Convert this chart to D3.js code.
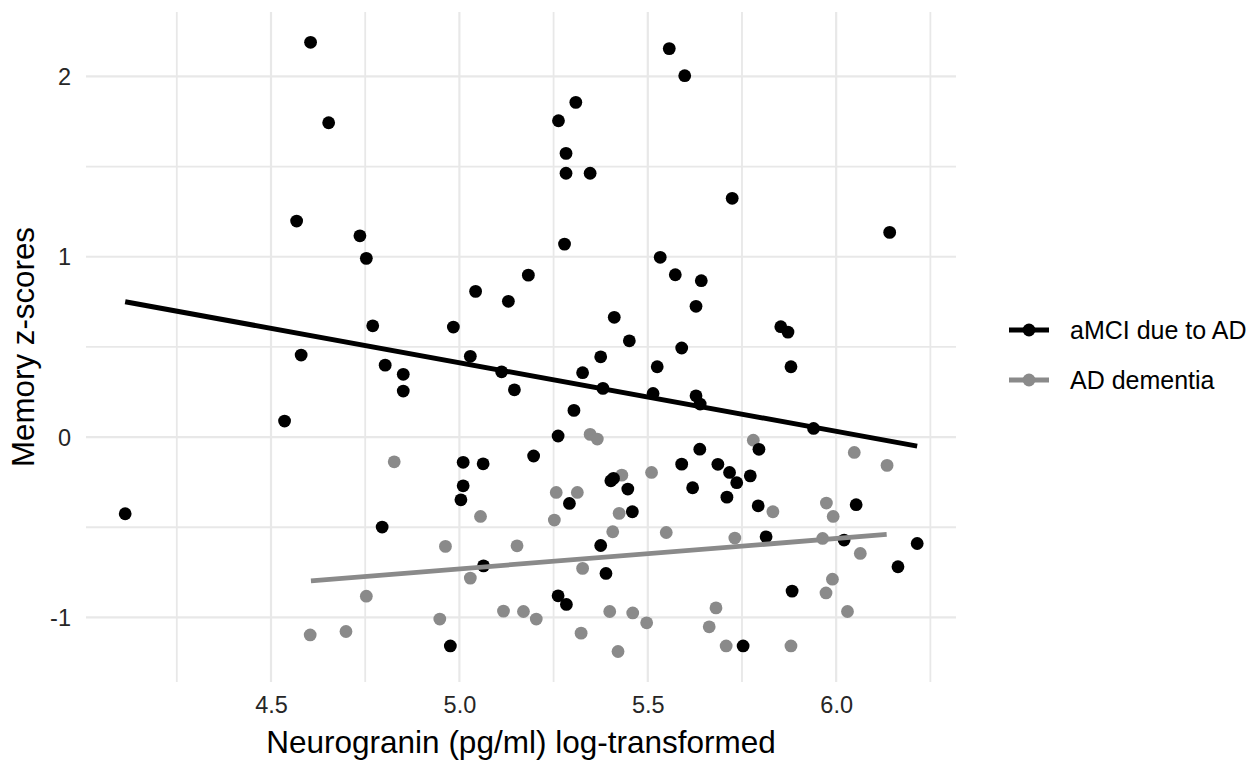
<!DOCTYPE html>
<html>
<head>
<meta charset="utf-8">
<script src="https://cdn.jsdelivr.net/npm/d3@7"></script>
<style>
  html, body { margin: 0; padding: 0; background: #ffffff; }
  svg { display: block; font-family: "Liberation Sans", Arial, Helvetica, sans-serif; }
</style>
</head>
<body>
<svg id="chart" width="1260" height="761"></svg>
<script>
// ---------------- DATA ----------------
const groups = ["aMCI due to AD", "AD dementia"];

// aMCI due to AD: Neurogranin (log) and memory z-score
const neuroAMCI = [4.605, 4.653, 4.568, 4.736, 4.753, 5.043, 5.130, 5.183, 4.770, 4.984,
  4.580, 4.803, 4.851, 4.851, 5.029, 5.112, 5.146, 4.536, 5.197, 5.010,
  5.063, 5.010, 5.004, 4.113, 4.795, 5.064, 4.976, 5.557, 5.598, 5.309,
  5.263, 5.283, 5.283, 5.347, 5.724, 6.142, 5.279, 5.533, 5.573, 5.642,
  5.628, 5.411, 5.853, 5.872, 5.451, 5.590, 5.375, 5.327, 5.525, 5.880,
  5.381, 5.514, 5.628, 5.639, 5.304, 5.940, 5.262, 5.638, 5.795, 5.590,
  5.686, 5.717, 5.402, 5.409, 5.736, 5.772, 5.447, 5.619, 5.710, 5.292,
  5.793, 6.053, 5.459, 5.814, 5.375, 6.021, 6.215, 6.164, 5.389, 5.883,
  5.262, 5.284, 5.753];
const memAMCI = [2.189, 1.743, 1.198, 1.116, 0.991, 0.808, 0.753, 0.898, 0.617, 0.610,
  0.455, 0.399, 0.348, 0.255, 0.448, 0.362, 0.262, 0.089, -0.105, -0.140,
  -0.148, -0.270, -0.348, -0.425, -0.499, -0.714, -1.158, 2.154, 2.004, 1.856,
  1.754, 1.573, 1.463, 1.463, 1.324, 1.135, 1.070, 0.997, 0.900, 0.867,
  0.725, 0.664, 0.612, 0.582, 0.534, 0.494, 0.445, 0.357, 0.390, 0.390,
  0.270, 0.242, 0.229, 0.183, 0.148, 0.048, 0.006, -0.067, -0.068, -0.150,
  -0.151, -0.196, -0.242, -0.229, -0.253, -0.215, -0.288, -0.281, -0.333, -0.368,
  -0.381, -0.375, -0.414, -0.553, -0.601, -0.571, -0.590, -0.719, -0.756, -0.854,
  -0.880, -0.928, -1.158];

// AD dementia
const neuroAD = [4.827, 5.347, 5.366, 5.056, 4.963, 5.153, 5.029, 4.753, 5.117, 5.170,
  4.948, 4.604, 4.699, 5.204, 5.780, 6.048, 6.135, 5.431, 5.510, 5.257,
  5.313, 5.424, 5.252, 5.832, 5.974, 5.992, 5.407, 5.549, 5.731, 5.964,
  6.064, 5.327, 5.990, 5.973, 5.399, 5.460, 5.497, 5.681, 5.663, 6.030,
  5.323, 5.708, 5.880, 5.421];
const memAD = [-0.137, 0.015, -0.011, -0.440, -0.606, -0.603, -0.782, -0.882, -0.965, -0.967,
  -1.009, -1.097, -1.078, -1.009, -0.017, -0.085, -0.157, -0.211, -0.196, -0.307,
  -0.307, -0.423, -0.460, -0.414, -0.366, -0.440, -0.525, -0.529, -0.560, -0.562,
  -0.645, -0.728, -0.788, -0.864, -0.967, -0.975, -1.030, -0.947, -1.052, -0.967,
  -1.087, -1.158, -1.158, -1.189];

// Fitted linear trends (endpoints over each group's x range)
const fitNeuroAMCI = [4.113, 6.215];
const fitMemAMCI = [0.750, -0.050];
const fitNeuroAD = [4.606, 6.134];
const fitMemAD = [-0.797, -0.540];

// Axis ticks
const xMajorTicks = [4.5, 5.0, 5.5, 6.0];
const xTickLabels = ["4.5", "5.0", "5.5", "6.0"];
const xMinorTicks = [4.25, 4.75, 5.25, 5.75, 6.25];
const yMajorTicks = [-1, 0, 1, 2];
const yTickLabels = ["-1", "0", "1", "2"];
const yMinorTicks = [-0.5, 0.5, 1.5];

// ---------------- LAYOUT ----------------
const panel = { left: 86, right: 956, top: 12, bottom: 682 };
const xDomain = [4.009, 6.318];
const yDomain = [-1.358, 2.357];
const colors = { "aMCI due to AD": "#000000", "AD dementia": "#8a8a8a" };

const svg = d3.select("#chart");
const x = d3.scaleLinear().domain(xDomain).range([panel.left, panel.right]);
const y = d3.scaleLinear().domain(yDomain).range([panel.bottom, panel.top]);

const grid = svg.append("g");
const gridColor = "#e8e8e8";
// minor grid
grid.selectAll(".xminor").data(xMinorTicks).enter().append("line")
  .attr("x1", d => x(d)).attr("x2", d => x(d))
  .attr("y1", panel.top).attr("y2", panel.bottom)
  .attr("stroke", gridColor).attr("stroke-width", 1.8);
grid.selectAll(".yminor").data(yMinorTicks).enter().append("line")
  .attr("y1", d => y(d)).attr("y2", d => y(d))
  .attr("x1", panel.left).attr("x2", panel.right)
  .attr("stroke", gridColor).attr("stroke-width", 1.8);
// major grid
grid.selectAll(".xmajor").data(xMajorTicks).enter().append("line")
  .attr("x1", d => x(d)).attr("x2", d => x(d))
  .attr("y1", panel.top).attr("y2", panel.bottom)
  .attr("stroke", gridColor).attr("stroke-width", 2.2);
grid.selectAll(".ymajor").data(yMajorTicks).enter().append("line")
  .attr("y1", d => y(d)).attr("y2", d => y(d))
  .attr("x1", panel.left).attr("x2", panel.right)
  .attr("stroke", gridColor).attr("stroke-width", 2.2);

// axes (labels only)
const xAxis = d3.axisBottom(x).tickValues(xMajorTicks)
  .tickFormat((d, i) => xTickLabels[i]).tickSize(0).tickPadding(0);
const gx = svg.append("g").attr("transform", `translate(0,${panel.bottom})`).call(xAxis);
gx.select(".domain").remove();
gx.selectAll("text").attr("font-size", 23.5).attr("fill", "#262626")
  .attr("font-family", "Liberation Sans, Arial, sans-serif")
  .attr("dy", null).attr("y", 31);

const yAxis = d3.axisLeft(y).tickValues(yMajorTicks)
  .tickFormat((d, i) => yTickLabels[i]).tickSize(0).tickPadding(0);
const gy = svg.append("g").attr("transform", `translate(${panel.left - 15},0)`).call(yAxis);
gy.select(".domain").remove();
gy.selectAll("text").attr("font-size", 23.5).attr("fill", "#262626")
  .attr("font-family", "Liberation Sans, Arial, sans-serif")
  .attr("x", 0).attr("dy", "0.35em");

// points
const adPts = neuroAD.map((v, i) => ({ x: v, y: memAD[i] }));
const mciPts = neuroAMCI.map((v, i) => ({ x: v, y: memAMCI[i] }));
svg.append("g").selectAll("circle").data(adPts).enter().append("circle")
  .attr("cx", d => x(d.x)).attr("cy", d => y(d.y)).attr("r", 6.4)
  .attr("fill", colors["AD dementia"]);
svg.append("g").selectAll("circle").data(mciPts).enter().append("circle")
  .attr("cx", d => x(d.x)).attr("cy", d => y(d.y)).attr("r", 6.4)
  .attr("fill", colors["aMCI due to AD"]);

// fitted lines
const line = d3.line().x(d => x(d[0])).y(d => y(d[1]));
svg.append("path").datum(fitNeuroAD.map((v, i) => [v, fitMemAD[i]]))
  .attr("d", line).attr("stroke", colors["AD dementia"]).attr("stroke-width", 4.8).attr("fill", "none");
svg.append("path").datum(fitNeuroAMCI.map((v, i) => [v, fitMemAMCI[i]]))
  .attr("d", line).attr("stroke", colors["aMCI due to AD"]).attr("stroke-width", 5).attr("fill", "none");

// axis titles
svg.append("text").attr("x", (panel.left + panel.right) / 2).attr("y", 753)
  .attr("text-anchor", "middle").attr("font-size", 31.5).attr("fill", "#000")
  .text("Neurogranin (pg/ml) log-transformed");
svg.append("text")
  .attr("transform", `translate(34,${(panel.top + panel.bottom) / 2}) rotate(-90)`)
  .attr("text-anchor", "middle").attr("font-size", 31.3).attr("fill", "#000")
  .text("Memory z-scores");

// legend
const legend = svg.append("g");
groups.forEach((g, i) => {
  const cy = 330 + i * 50;
  legend.append("line").attr("x1", 1009).attr("x2", 1049).attr("y1", cy).attr("y2", cy)
    .attr("stroke", colors[g]).attr("stroke-width", 5);
  legend.append("circle").attr("cx", 1029).attr("cy", cy).attr("r", 6.4).attr("fill", colors[g]);
  legend.append("text").attr("x", 1070).attr("y", cy).attr("dy", "0.36em")
    .attr("font-size", 25).attr("fill", "#000").text(g);
});
</script>
</body>
</html>
